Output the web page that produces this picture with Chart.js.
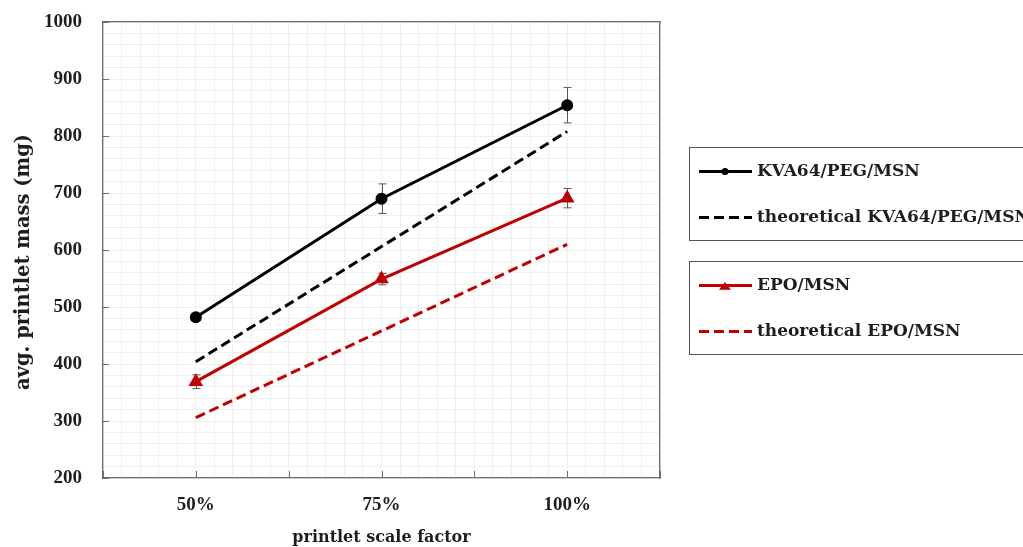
<!DOCTYPE html>
<html>
<head>
<meta charset="utf-8">
<script src="https://cdn.jsdelivr.net/npm/chart.js@4.4.1/dist/chart.umd.min.js"></script>
<style>
  html, body { margin: 0; padding: 0; background: #fff; }
</style>
</head>
<body>
<canvas id="chart" width="1023" height="547"></canvas>
<script>
// printlet scale factor (%) and how it is labelled
const scaleFactors = [50, 75, 100];
const xTickLabels = ['50%', '75%', '100%'];

// avg. printlet mass (mg)
const kvaMass = [482, 690, 854];
const kvaErr = [6, 26, 31];
const kvaTheory = [404, 606, 808];

const epoMass = [369, 549, 691];
const epoErr = [12, 10, 17];
const epoTheory = [306, 458, 610];

const seriesNames = ['KVA64/PEG/MSN', 'theoretical KVA64/PEG/MSN', 'EPO/MSN', 'theoretical EPO/MSN'];
const yTitle = 'avg. printlet mass (mg)';

const black = '#000000';
const red = '#c00000';
const axisColor = '#6e6e6e';
const textColor = '#1e1e1e';

const tickFont = { family: 'Liberation Serif', size: 19, weight: 'bold' };

function points(values) {
  return scaleFactors.map((x, i) => ({ x: x, y: values[i] }));
}

// error bars (not in Chart.js core) : drawn from the y scale
const errorBars = {
  id: 'errorBars',
  beforeDatasetsDraw(chart) {
    const ctx = chart.ctx;
    const x = chart.scales.x, y = chart.scales.y;
    const sets = [[kvaMass, kvaErr], [epoMass, epoErr]];
    ctx.save();
    ctx.strokeStyle = '#595959';
    ctx.lineWidth = 1;
    ctx.beginPath();
    sets.forEach(([vals, errs]) => {
      vals.forEach((v, i) => {
        const px = Math.round(x.getPixelForValue(scaleFactors[i])) + 0.5;
        const top = y.getPixelForValue(v + errs[i]);
        const bot = y.getPixelForValue(v - errs[i]);
        ctx.moveTo(px, top); ctx.lineTo(px, bot);
        ctx.moveTo(px - 4, top); ctx.lineTo(px + 4, top);
        ctx.moveTo(px - 4, bot); ctx.lineTo(px + 4, bot);
      });
    });
    ctx.stroke();
    ctx.restore();
  }
};

// short tick marks inside the plot, like the original
const insideTicks = {
  id: 'insideTicks',
  beforeDatasetsDraw(chart) {
    const { ctx, chartArea: a } = chart;
    const x = chart.scales.x, y = chart.scales.y;
    ctx.save();
    ctx.strokeStyle = axisColor;
    ctx.lineWidth = 1;
    ctx.beginPath();
    y.ticks.forEach(t => {
      const py = Math.round(y.getPixelForValue(t.value)) + 0.5;
      ctx.moveTo(a.left, py); ctx.lineTo(a.left + 6, py);
    });
    x.ticks.forEach(t => {
      const px = Math.round(x.getPixelForValue(t.value)) + 0.5;
      ctx.moveTo(px, a.bottom); ctx.lineTo(px, a.bottom - 7);
    });
    ctx.stroke();
    ctx.restore();
  }
};

// y title, a little below the plot centre as in the original
const yAxisTitle = {
  id: 'yAxisTitle',
  afterDraw(chart) {
    const ctx = chart.ctx;
    ctx.save();
    ctx.translate(24, 262);
    ctx.rotate(-Math.PI / 2);
    ctx.fillStyle = textColor;
    ctx.font = 'bold 19.5px "DejaVu Serif"';
    ctx.textAlign = 'center';
    ctx.textBaseline = 'middle';
    ctx.fillText(yTitle, 0, 0);
    ctx.restore();
  }
};

// the two framed legend boxes on the right
const boxLegend = {
  id: 'boxLegend',
  afterDraw(chart) {
    const ctx = chart.ctx;
    const groups = [{ top: 147.5, h: 93, items: [0, 1] }, { top: 261.5, h: 93, items: [2, 3] }];
    ctx.save();
    groups.forEach(g => {
      ctx.strokeStyle = '#555555';
      ctx.lineWidth = 1;
      ctx.setLineDash([]);
      ctx.strokeRect(689.5, g.top, 360, g.h);
      g.items.forEach((idx, k) => {
        const ds = chart.data.datasets[idx];
        const cy = g.top + 24 + k * 46;
        ctx.strokeStyle = ds.borderColor;
        ctx.lineWidth = ds.borderWidth;
        ctx.setLineDash(ds.borderDash || []);
        ctx.beginPath();
        ctx.moveTo(699, cy); ctx.lineTo(752, cy);
        ctx.stroke();
        ctx.setLineDash([]);
        if (ds.pointRadius > 0) {
          ctx.fillStyle = ds.pointBackgroundColor;
          ctx.beginPath();
          if (ds.pointStyle === 'triangle') {
            const r = 6;
            ctx.moveTo(725, cy - r * 0.6); ctx.lineTo(725 + r, cy + r * 0.7); ctx.lineTo(725 - r, cy + r * 0.7);
            ctx.closePath();
          } else {
            ctx.arc(725, cy, 3.5, 0, Math.PI * 2);
          }
          ctx.fill();
        }
        ctx.fillStyle = textColor;
        ctx.font = 'bold 17px "DejaVu Serif"';
        ctx.textBaseline = 'middle';
        ctx.textAlign = 'left';
        ctx.fillText(ds.label, 757, cy);
      });
    });
    ctx.restore();
  }
};

new Chart(document.getElementById('chart'), {
  type: 'line',
  data: {
    datasets: [
      { label: seriesNames[0], data: points(kvaMass), borderColor: black, backgroundColor: black,
        pointBackgroundColor: black, pointBorderColor: black, borderWidth: 3, pointRadius: 4.5, pointStyle: 'circle' },
      { label: seriesNames[1], data: points(kvaTheory), borderColor: black, borderWidth: 3,
        borderDash: [10, 5], pointRadius: 0 },
      { label: seriesNames[2], data: points(epoMass), borderColor: red, backgroundColor: red,
        pointBackgroundColor: red, pointBorderColor: red, borderWidth: 3, pointRadius: 5.5, pointStyle: 'triangle' },
      { label: seriesNames[3], data: points(epoTheory), borderColor: red, borderWidth: 3,
        borderDash: [10, 5], pointRadius: 0 }
    ]
  },
  options: {
    responsive: false,
    animation: false,
    layout: { padding: { top: 22, right: 363, bottom: 0, left: 0 } },
    plugins: { legend: { display: false }, tooltip: { enabled: false } },
    scales: {
      x: {
        type: 'linear', position: 'bottom', min: 37.5, max: 112.5,
        ticks: {
          stepSize: 12.5, autoSkip: false, maxRotation: 0, padding: 16, color: textColor, font: tickFont,
          callback: v => { const i = scaleFactors.indexOf(v); return i >= 0 ? xTickLabels[i] : ''; }
        },
        grid: { color: '#d4d4d4', drawTicks: false },
        border: { color: axisColor, width: 1.3 },
        title: { display: true, text: 'printlet scale factor', color: textColor,
          font: { family: 'DejaVu Serif', size: 16, weight: 'bold' }, padding: { top: 0, bottom: 0 } },
        afterFit: s => { s.height = 69; s.paddingLeft = 0; s.paddingRight = 0; }
      },
      y: {
        min: 200, max: 1000, position: 'left',
        ticks: { stepSize: 100, padding: 21, color: textColor, font: tickFont, callback: v => String(v) },
        grid: { color: '#d4d4d4', drawTicks: false },
        border: { color: axisColor, width: 1.3 },
        afterFit: s => { s.width = 103; s.paddingTop = 0; s.paddingBottom = 0; }
      },
      // minor grid lines, and the top / right frame
      x2: {
        type: 'linear', position: 'top', min: 37.5, max: 112.5, z: -1,
        ticks: { display: false, stepSize: 2.5 },
        grid: { color: '#efefef', drawTicks: false },
        border: { color: axisColor, width: 1.3 },
        afterFit: s => { s.height = 0; }
      },
      y2: {
        type: 'linear', position: 'right', min: 200, max: 1000, z: -1,
        ticks: { display: false, stepSize: 20 },
        grid: { color: '#efefef', drawTicks: false },
        border: { color: axisColor, width: 1.3 },
        afterFit: s => { s.width = 0; }
      }
    }
  },
  plugins: [errorBars, insideTicks, yAxisTitle, boxLegend]
});
</script>
</body>
</html>
